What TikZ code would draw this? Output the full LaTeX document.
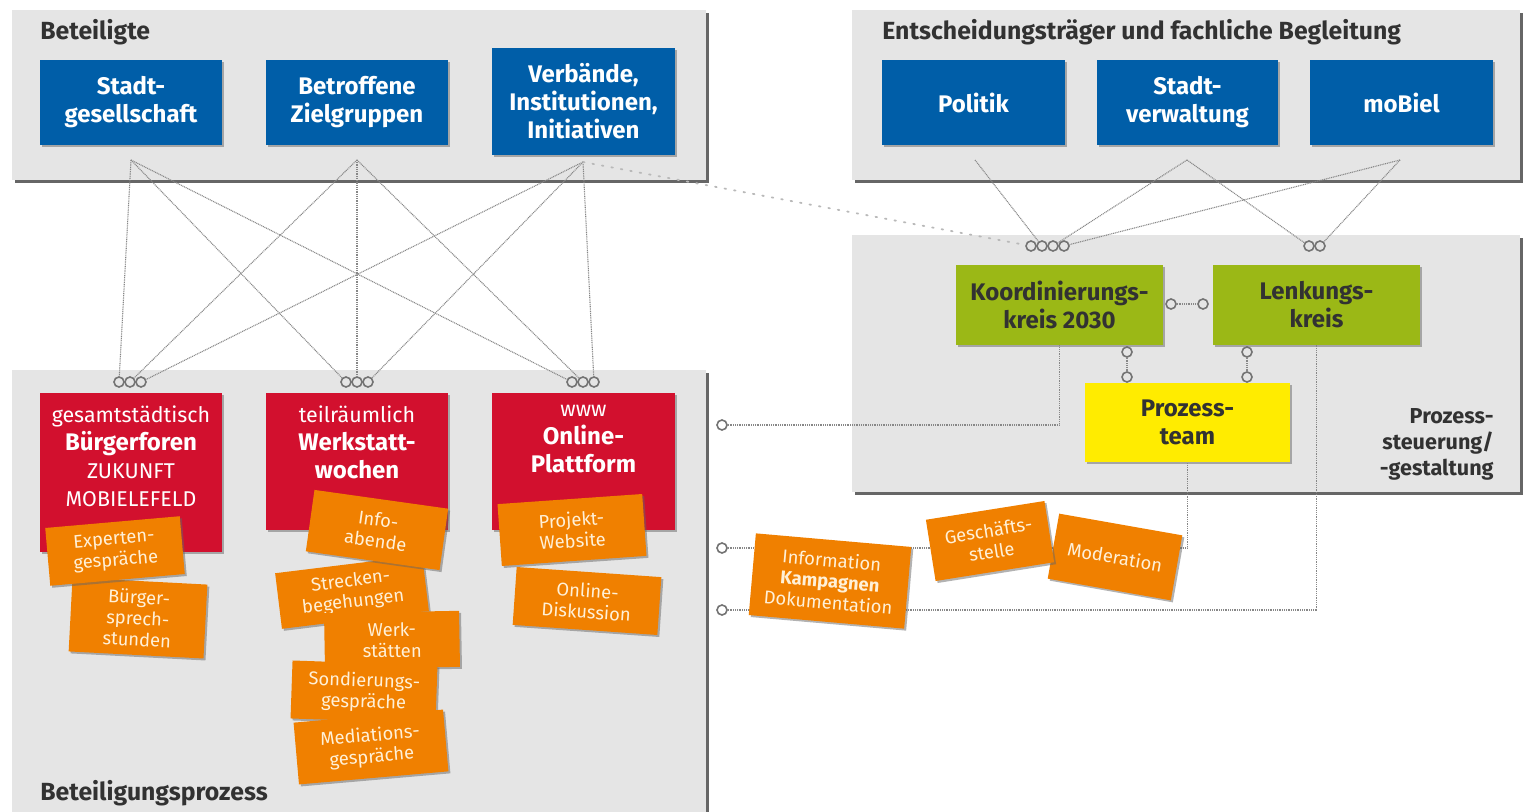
\documentclass[tikz,border=0pt]{standalone}
\usepackage{fontspec}
\setmainfont{Fira Sans}
\usetikzlibrary{shadows,calc}
\definecolor{panelgray}{RGB}{229,229,229}
\definecolor{bbblue}{RGB}{0,94,168}
\definecolor{rbred}{RGB}{210,16,46}
\definecolor{cardorange}{RGB}{240,128,0}
\definecolor{cardtext}{RGB}{255,240,215}
\definecolor{gbgreen}{RGB}{155,184,22}
\definecolor{ybyellow}{RGB}{255,236,0}
\definecolor{textdark}{RGB}{50,50,50}
\definecolor{meshgray}{RGB}{135,135,135}
\definecolor{portgray}{RGB}{115,115,115}
\tikzset{
  panel/.style={fill=panelgray, inner sep=0, outer sep=0, anchor=north west,
    drop shadow={shadow xshift=1.3pt, shadow yshift=-1.3pt, fill=black!75, opacity=0.8}},
  titletext/.style={font=\bfseries\fontsize{12.4}{14}\selectfont, text=textdark, inner sep=0, anchor=base west},
  bluebox/.style={fill=bbblue, text=white, font=\bfseries\fontsize{12}{14}\selectfont, align=center,
    inner sep=0, minimum width=91pt, minimum height=42.5pt,
    drop shadow={shadow xshift=1pt, shadow yshift=-1pt, fill=black!60, opacity=0.5}},
  redbox/.style={fill=rbred, inner sep=0, minimum width=91pt,
    drop shadow={shadow xshift=1pt, shadow yshift=-1pt, fill=black!60, opacity=0.5}},
  redtext/.style={text=white, align=center, inner sep=0, anchor=north, font=\fontsize{10.7}{14}\selectfont},
  greenbox/.style={fill=gbgreen, text=textdark, font=\bfseries\fontsize{12}{14}\selectfont, align=center,
    inner sep=0, minimum width=103.5pt, minimum height=40pt,
    drop shadow={shadow xshift=1pt, shadow yshift=-1pt, fill=black!60, opacity=0.5}},
  yellowbox/.style={greenbox, fill=ybyellow, minimum width=102.5pt, minimum height=39.5pt},
  card/.style={fill=cardorange, text=cardtext, font=\fontsize{9.2}{10.6}\selectfont, align=center, inner sep=0,
    drop shadow={shadow xshift=1pt, shadow yshift=-1pt, fill=black!60, opacity=0.5}},
  mesh/.style={draw=meshgray, line width=0.55pt, dash pattern=on 0.5pt off 0.4pt},
  faint/.style={draw=gray!55, line width=0.9pt, dash pattern=on 0.8pt off 4pt, line cap=round},
  port/.style={circle, draw=portgray, line width=0.8pt, fill=panelgray, minimum size=5pt, inner sep=0},
  wport/.style={port, fill=white}
}
\begin{document}
\begin{tikzpicture}[x=0.5pt,y=-0.5pt]
\useasboundingbox (0,0) rectangle (1525,812);

% panels
\node[panel, minimum width=347pt, minimum height=85pt] (pBet) at (12,10) {};
\node[panel, minimum width=334pt, minimum height=85pt] (pEnt) at (852,10) {};
\node[panel, minimum width=334pt, minimum height=128.5pt] (pPro) at (852,235) {};
\node[panel, minimum width=347pt, minimum height=225pt] (pBp) at (12,370) {};

\node[titletext] (tBet) at (40,40) {Beteiligte};
\node[titletext] (tEnt) at (882,40) {Entscheidungsträger und fachliche Begleitung};
\node[titletext] (tBp) at (40,800) {Beteiligungsprozess};
\node[titletext, anchor=north east, align=right, font=\bfseries\fontsize{10.8}{13}\selectfont] (tPro) at (1494,408) {Prozess-\\steuerung/\\-gestaltung};

% connection points
\coordinate (sgp) at (131,160);
\coordinate (bzp) at (357,160);
\coordinate (vbp) at (583,162);
\coordinate (pop) at (975,160);
\coordinate (svp) at (1187,160);
\coordinate (mbp) at (1400,160);

% ports
\node[port] (r1a) at (119,382) {};
\node[port] (r1b) at (130,382) {};
\node[port] (r1c) at (141,382) {};
\node[port] (r2a) at (346,382) {};
\node[port] (r2b) at (357,382) {};
\node[port] (r2c) at (368,382) {};
\node[port] (r3a) at (572,382) {};
\node[port] (r3b) at (583,382) {};
\node[port] (r3c) at (594,382) {};
\node[port] (k1) at (1031,246) {};
\node[port] (k2) at (1042,246) {};
\node[port] (k3) at (1053,246) {};
\node[port] (k4) at (1064,246) {};
\node[port] (n1) at (1309,246) {};
\node[port] (n2) at (1320,246) {};
\node[port] (kl) at (1171,304) {};
\node[port] (lk) at (1203,304) {};
\node[port] (kp1) at (1127,352) {};
\node[port] (kp2) at (1127,377) {};
\node[port] (lp1) at (1247,352) {};
\node[port] (lp2) at (1247,377) {};
\node[wport] (l1) at (722,425) {};
\node[wport] (l2) at (722,548) {};
\node[wport] (l3) at (722,610) {};

% mesh
\draw[mesh] (sgp) -- (r1a);
\draw[mesh] (sgp) -- (r2a);
\draw[mesh] (sgp) -- (r3a);
\draw[mesh] (bzp) -- (r1b);
\draw[mesh] (bzp) -- (r2b);
\draw[mesh] (bzp) -- (r3b);
\draw[mesh] (vbp) -- (r1c);
\draw[mesh] (vbp) -- (r2c);
\draw[mesh] (vbp) -- (r3c);
\draw[faint] (vbp) -- (k1);
\draw[mesh] (pop) -- (k2);
\draw[mesh] (svp) -- (k3);
\draw[mesh] (mbp) -- (k4);
\draw[mesh] (svp) -- (n1);
\draw[mesh] (mbp) -- (n2);
\draw[mesh] (kl) -- (lk);
\draw[mesh] (kp1) -- (kp2);
\draw[mesh] (lp1) -- (lp2);

% blue boxes
\node[bluebox] (sg) at (131,102.5) {Stadt-\\gesellschaft};
\node[bluebox] (bz) at (357,102.5) {Betroffene\\Zielgruppen};
\node[bluebox, minimum width=91.5pt, minimum height=53.5pt] (vb) at (583.5,101.5) {Verbände,\\Institutionen,\\Initiativen};
\node[bluebox, minimum width=91.5pt] (po) at (973.5,102.5) {Politik};
\node[bluebox, minimum width=90.5pt] (sv) at (1187.5,102.5) {Stadt-\\verwaltung};
\node[bluebox, minimum width=91.5pt] (mb) at (1401.5,102.5) {moBiel};

% green / yellow
\node[greenbox] (koord) at (1059.5,305) {Koordinierungs-\\kreis 2030};
\node[greenbox] (lenk) at (1316.5,305) {Lenkungs-\\kreis};
\node[yellowbox] (pteam) at (1187.5,422.5) {Prozess-\\team};

% lines from left ports
\draw[mesh] (l1) -| (koord.south);
\draw[mesh] (l2) -| (pteam.south);
\draw[mesh] (l3) -| (lenk.south);

% red boxes
\node[redbox, minimum height=79.5pt] (rb1) at (131,472.5) {};
\node[redbox, minimum height=68.5pt] (rb2) at (357,461.5) {};
\node[redbox, minimum width=91.5pt, minimum height=68.5pt] (rb3) at (583.5,461.5) {};
\node[redtext] (rt1) at (131,405) {gesamtstädtisch\\{\bfseries\fontsize{12}{14}\selectfont Bürgerforen}\\ZUKUNFT\\MOBIELEFELD};
\node[redtext] (rt2) at (357,405) {teilräumlich\\{\bfseries\fontsize{12}{14}\selectfont Werkstatt-}\\{\bfseries\fontsize{12}{14}\selectfont wochen}};
\node[redtext] (rt3) at (583.5,405) {www\\{\bfseries\fontsize{12}{14}\selectfont Online-}\\{\bfseries\fontsize{12}{14}\selectfont Plattform}};

% orange cards
\node[card, minimum width=67.5pt, minimum height=37pt, rotate=-3] (bsp) at (138,618) {Bürger-\\sprech-\\stunden};
\node[card, minimum width=67.5pt, minimum height=29pt, rotate=5] (exp) at (115,551) {Experten-\\gespräche};
\node[card, minimum width=74pt, minimum height=28pt, rotate=7] (str) at (352,592) {Strecken-\\begehungen};
\node[card, minimum width=67.5pt, minimum height=31pt, rotate=-8] (info) at (377,530) {Info-\\abende};
\node[card, minimum width=67.5pt, minimum height=28pt, rotate=1] (wst) at (392,640) {Werk-\\stätten};
\node[card, minimum width=72.5pt, minimum height=29pt, rotate=-2] (sond) at (364,692) {Sondierungs-\\gespräche};
\node[card, minimum width=75pt, minimum height=31pt, rotate=5] (med) at (371,747) {Mediations-\\gespräche};
\node[card, minimum width=72.5pt, minimum height=31pt, rotate=4] (pw) at (572,530) {Projekt-\\Website};
\node[card, minimum width=72.5pt, minimum height=29pt, rotate=-4] (od) at (587,601) {Online-\\Diskussion};
\node[card, minimum width=78pt, minimum height=41pt, rotate=-5] (ikd) at (830,581) {Information\\\textbf{Kampagnen}\\Dokumentation};
\node[card, minimum width=62.5pt, minimum height=33pt, rotate=-10] (mod) at (1115,557) {Moderation};
\node[card, minimum width=60pt, minimum height=31pt, rotate=9] (gs) at (990,541) {Geschäfts-\\stelle};

\end{tikzpicture}
\end{document}
